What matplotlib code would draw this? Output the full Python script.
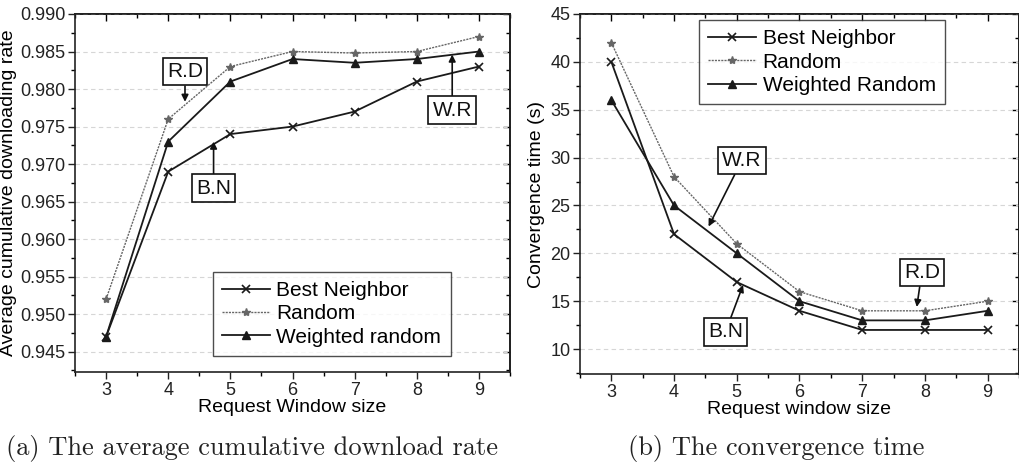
import matplotlib
matplotlib.use("Agg")
import matplotlib.pyplot as plt
from matplotlib.ticker import MultipleLocator, FormatStrFormatter

plt.rcParams['font.family'] = ['Liberation Sans', 'DejaVu Sans']

# ---- data ----
window = [3, 4, 5, 6, 7, 8, 9]
rate_best = [0.947, 0.969, 0.974, 0.975, 0.977, 0.981, 0.983]
rate_random = [0.952, 0.976, 0.983, 0.985, 0.9848, 0.985, 0.987]
rate_weighted = [0.947, 0.973, 0.981, 0.984, 0.9835, 0.984, 0.985]

conv_best = [40, 22, 17, 14, 12, 12, 12]
conv_random = [42, 28, 21, 16, 14, 14, 15]
conv_weighted = [36, 25, 20, 15, 13, 13, 14]

labels_a = ['Best Neighbor', 'Random', 'Weighted random']
labels_b = ['Best Neighbor', 'Random', 'Weighted Random']

W, H = 1020, 472
fig = plt.figure(figsize=(W / 100, H / 100), dpi=100)

def px_axes(l, t, r, b):
    return fig.add_axes([l / W, 1 - b / H, (r - l) / W, (b - t) / H])

axA = px_axes(75, 14, 510, 372)
axB = px_axes(580, 14, 1019, 374)

DARK = '#1a1a1a'
GRAY = '#666666'

def style(ax, ylim, major, minor, fmt=None):
    ax.set_xlim(2.5, 9.5)
    ax.set_ylim(*ylim)
    ax.xaxis.set_major_locator(MultipleLocator(1))
    ax.xaxis.set_minor_locator(MultipleLocator(0.5))
    ax.yaxis.set_major_locator(MultipleLocator(major))
    ax.yaxis.set_minor_locator(MultipleLocator(minor))
    if fmt:
        ax.yaxis.set_major_formatter(FormatStrFormatter(fmt))
    ax.tick_params(which='major', direction='out', length=5, width=1.0,
                   labelsize=13, colors='#222222', pad=2)
    ax.tick_params(which='minor', direction='out', length=3, width=1.0)
    for s in ax.spines.values():
        s.set_linewidth(1.2)
        s.set_color('#222222')
    ax.grid(axis='y', which='major', color='#d6d6d6', linestyle=(0, (4, 3)), lw=0.8)
    ax.set_axisbelow(True)
    # mirrored inward ticks on top and right
    top = ax.secondary_xaxis('top')
    top.xaxis.set_major_locator(MultipleLocator(1))
    top.xaxis.set_minor_locator(MultipleLocator(0.5))
    top.tick_params(which='major', direction='in', length=5, width=1.0, labeltop=False)
    top.tick_params(which='minor', direction='in', length=3, width=1.0)
    right = ax.secondary_yaxis('right')
    right.yaxis.set_major_locator(MultipleLocator(major))
    right.yaxis.set_minor_locator(MultipleLocator(minor))
    right.tick_params(which='major', direction='in', length=5, width=1.0, labelright=False)
    right.tick_params(which='minor', direction='in', length=3, width=1.0)
    for sec in (top, right):
        for s in sec.spines.values():
            s.set_linewidth(1.2)

def plot_series(ax, best, rnd, wtd, labels):
    ax.plot(window, best, color=DARK, lw=1.3, marker='x', ms=6, mew=1.2, label=labels[0])
    ax.plot(window, rnd, color=GRAY, lw=1.0, ls=(0, (1.5, 0.8)), marker='*', ms=6,
            mec=GRAY, mfc=GRAY, label=labels[1])
    ax.plot(window, wtd, color=DARK, lw=1.3, marker='^', ms=6, mfc=DARK, mec=DARK,
            label=labels[2])

def tag(ax, text, box_xy, tip_xy):
    ax.annotate(text, xy=tip_xy, xytext=box_xy, ha='center', va='center',
                fontsize=15, color='#111111',
                bbox=dict(boxstyle='square,pad=0.2', fc='white', ec='#111111', lw=1.2),
                arrowprops=dict(arrowstyle='-|>', color='#111111', lw=1.2,
                                mutation_scale=10, shrinkA=0, shrinkB=0))

def legend(ax, labels_anchor, loc):
    leg = ax.legend(loc=loc, bbox_to_anchor=labels_anchor, fontsize=15,
                    frameon=True, fancybox=False, edgecolor='#222222',
                    handlelength=2.3, handletextpad=0.3, borderpad=0.45,
                    labelspacing=0.2, borderaxespad=0)
    leg.get_frame().set_linewidth(1.0)
    return leg

# ---- panel (a) ----
style(axA, (0.9423, 0.990), 0.005, 0.0025, '%.3f')
plot_series(axA, rate_best, rate_random, rate_weighted, labels_a)
axA.set_xlabel('Request Window size', fontsize=14, labelpad=0)
axA.set_ylabel('Average cumulative downloading rate', fontsize=14, labelpad=2)
legend(axA, (0.317, 0.045), 'lower left')
tag(axA, 'R.D', (4.27, 0.9823), (4.27, 0.9783))
tag(axA, 'B.N', (4.73, 0.9668), (4.73, 0.9730))
tag(axA, 'W.R', (8.57, 0.9772), (8.57, 0.9846))

# ---- panel (b) ----
style(axB, (7.4, 45), 5, 2.5)
plot_series(axB, conv_best, conv_random, conv_weighted, labels_b)
axB.set_xlabel('Request window size', fontsize=14, labelpad=0)
axB.set_ylabel('Convergence time (s)', fontsize=14, labelpad=4)
legend(axB, (0.271, 0.983), 'upper left')
tag(axB, 'W.R', (5.08, 29.7), (4.55, 22.8))
tag(axB, 'R.D', (7.95, 18.0), (7.87, 14.4))
tag(axB, 'B.N', (4.82, 11.8), (5.10, 16.7))

# ---- captions ----
fig.text(252 / W, 1 - 449 / H, '(a) The average cumulative download rate',
         ha='center', va='center', fontsize=19, family=['cmr10', 'DejaVu Serif'],
         color='#222222')
fig.text(776 / W, 1 - 449 / H, '(b) The convergence time',
         ha='center', va='center', fontsize=19, family=['cmr10', 'DejaVu Serif'],
         color='#222222')

fig.savefig('out.png', dpi=100, facecolor='white')
